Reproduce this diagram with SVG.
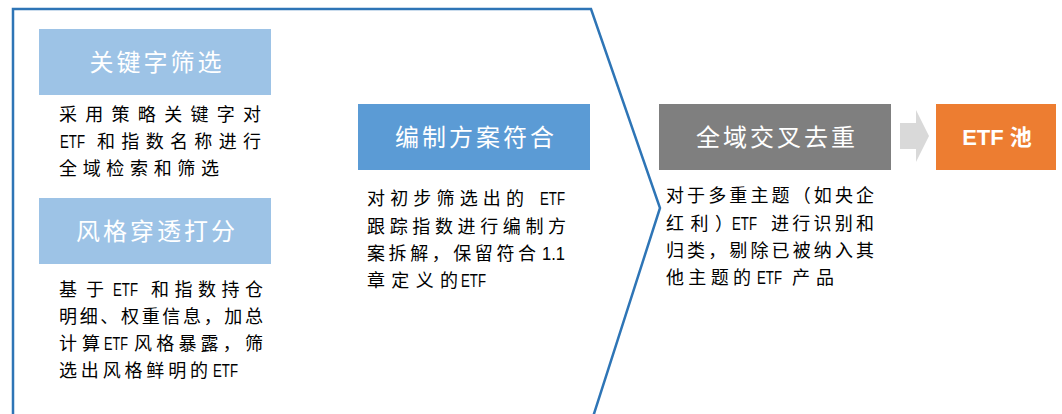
<svg xmlns="http://www.w3.org/2000/svg" width="1062" height="414" viewBox="0 0 1062 414">
<style>
.title{font-family:"Noto Sans CJK SC",sans-serif;font-size:24px;fill:#fff;text-anchor:middle;letter-spacing:3px}
.c{font-family:"Noto Sans CJK SC",sans-serif;font-size:18px;fill:#000}
.l{font-family:"Liberation Sans Narrow","Liberation Sans",Arial,sans-serif;font-size:17.5px;fill:#000}
</style>
<rect width="1062" height="414" fill="#fff"/>
<g id="frame">
<path d="M13,420 L13,9 L591,9 L660,208 L592,420" fill="none" stroke="#2E75B6" stroke-width="2.5"/>
</g>
<g id="node-keyword">
<rect x="39" y="29" width="232" height="66" fill="#9DC3E6"/>
<text class="title" x="157" y="71">关键字筛选</text>
<text class="c" x="59" y="120.5" textLength="202" lengthAdjust="spacing">采用策略关键字对</text>
<text class="l" x="60" y="147.5" textLength="25" lengthAdjust="spacingAndGlyphs">ETF</text>
<text class="c" x="97" y="147.5" textLength="164" lengthAdjust="spacing">和指数名称进行</text>
<text class="c" x="59" y="174.5" textLength="160" lengthAdjust="spacing">全域检索和筛选</text>
</g>
<g id="node-style">
<rect x="39" y="198" width="232" height="66" fill="#9DC3E6"/>
<text class="title" x="157" y="240">风格穿透打分</text>
<text class="c" x="59" y="296" textLength="45" lengthAdjust="spacing">基于</text>
<text class="l" x="113" y="296" textLength="25" lengthAdjust="spacingAndGlyphs">ETF</text>
<text class="c" x="151" y="296" textLength="112" lengthAdjust="spacing">和指数持仓</text>
<text class="c" x="59" y="323" textLength="204" lengthAdjust="spacing">明细、权重信息，加总</text>
<text class="c" x="59" y="350" textLength="41" lengthAdjust="spacing">计算</text>
<text class="l" x="104" y="350" textLength="24" lengthAdjust="spacingAndGlyphs">ETF</text>
<text class="c" x="134" y="350" textLength="129" lengthAdjust="spacing">风格暴露，筛</text>
<text class="c" x="59" y="377" textLength="149" lengthAdjust="spacing">选出风格鲜明的</text>
<text class="l" x="213" y="377" textLength="25" lengthAdjust="spacingAndGlyphs">ETF</text>
</g>
<g id="node-scheme">
<rect x="358" y="104" width="232" height="66" fill="#5B9BD5"/>
<text class="title" x="476" y="146">编制方案符合</text>
<text class="c" x="367" y="205" textLength="157" lengthAdjust="spacing">对初步筛选出的</text>
<text class="l" x="540" y="205" textLength="25" lengthAdjust="spacingAndGlyphs">ETF</text>
<text class="c" x="367" y="233" textLength="199" lengthAdjust="spacing">跟踪指数进行编制方</text>
<text class="c" x="367" y="260" textLength="169" lengthAdjust="spacing">案拆解，保留符合</text>
<text class="l" x="542" y="260" textLength="23" lengthAdjust="spacingAndGlyphs">1.1</text>
<text class="c" x="367" y="287" textLength="91" lengthAdjust="spacing">章定义的</text>
<text class="l" x="461" y="287" textLength="25" lengthAdjust="spacingAndGlyphs">ETF</text>
</g>
<g id="node-dedup">
<rect x="659" y="104" width="232" height="66" fill="#7F7F7F"/>
<text class="title" x="777" y="146">全域交叉去重</text>
<text class="c" x="666" y="202" textLength="208" lengthAdjust="spacing">对于多重主题（如央企</text>
<text class="c" x="666" y="230" textLength="67" lengthAdjust="spacing">红利）</text>
<text class="l" x="732" y="230" textLength="25" lengthAdjust="spacingAndGlyphs">ETF</text>
<text class="c" x="771" y="230" textLength="103" lengthAdjust="spacing">进行识别和</text>
<text class="c" x="666" y="257" textLength="208" lengthAdjust="spacing">归类，剔除已被纳入其</text>
<text class="c" x="666" y="284" textLength="85" lengthAdjust="spacing">他主题的</text>
<text class="l" x="757" y="284" textLength="25" lengthAdjust="spacingAndGlyphs">ETF</text>
<text class="c" x="792" y="284" textLength="42" lengthAdjust="spacing">产品</text>
</g>
<g id="connectors">
<path d="M900,123 L916,123 L916,110 L929,136 L916,162 L916,149 L900,149 Z" fill="#D9D9D9"/>
</g>
<g id="node-pool">
<rect x="936" y="104" width="120" height="66" fill="#ED7D31"/>
<text x="997" y="145" font-family="Liberation Sans,'Noto Sans CJK SC',sans-serif" font-size="22" font-weight="bold" fill="#fff" text-anchor="middle">ETF 池</text>
</g>
</svg>
